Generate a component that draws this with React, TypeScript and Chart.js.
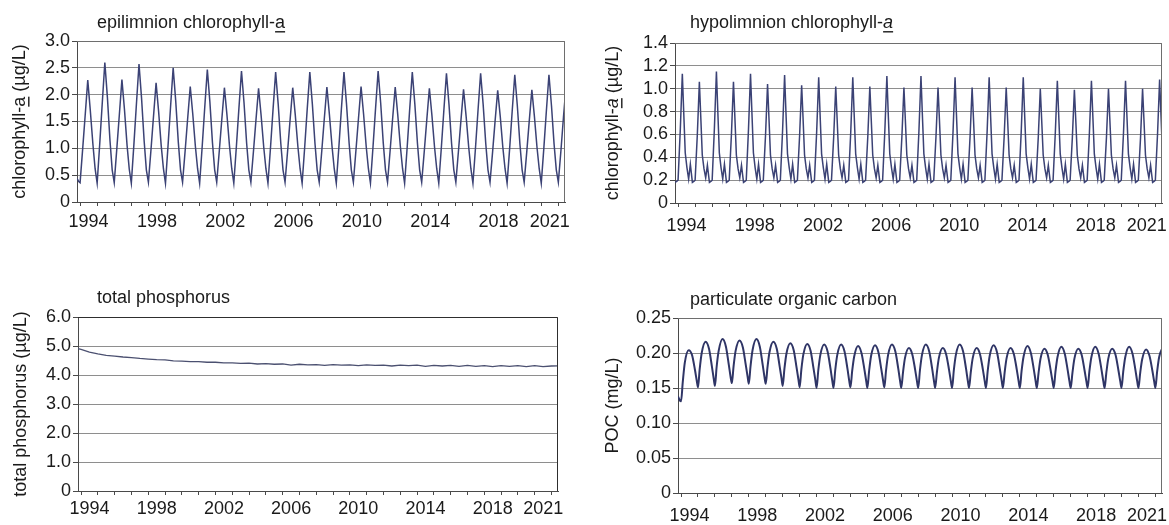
import React, { useEffect, useRef } from 'react';
import { Chart, registerables } from 'chart.js';

Chart.register(...registerables);

const FONT = '"Liberation Sans", Arial, Helvetica, sans-serif';
const FONT_SIZE = 18;
const TEXT_COLOR = '#1a1a1a';
const GRID_COLOR = '#8e8e8e';
const AXIS_COLOR = '#4a4a4a';
const FRAME_COLOR = '#6e6e6e';

// Time axis in decimal years
const X_MIN = 1993.82;
const X_MAX = 2022.39;
const YEAR_MARKS = [
  1994, 1995, 1996, 1997, 1998, 1999, 2000, 2001, 2002, 2003, 2004, 2005, 2006, 2007, 2008,
  2009, 2010, 2011, 2012, 2013, 2014, 2015, 2016, 2017, 2018, 2019, 2020, 2021, 2022,
];
const YEAR_LABELS = [1994, 1998, 2002, 2006, 2010, 2014, 2018, 2021];

// Each series is stored as one row of values per year; the row values sit at the
// listed fractions of that year.
const ROW_YEARS = YEAR_MARKS;

// ---- epilimnion chlorophyll-a (µg/L)
const EPI_LEAD = [
  [1993.82, 0.44],
  [1993.92, 0.38],
];
const EPI_OFFSETS = [0, 0.15, 0.3, 0.45, 0.6, 0.75, 0.88];
const EPI_ROWS = [
  [0.36, 0.98, 1.62, 2.27, 1.7, 1.08, 0.62],
  [0.35, 1.08, 1.85, 2.6, 1.95, 1.15, 0.6],
  [0.36, 0.99, 1.63, 2.28, 1.72, 1.06, 0.61],
  [0.35, 1.07, 1.83, 2.57, 1.93, 1.14, 0.6],
  [0.37, 0.97, 1.6, 2.22, 1.68, 1.05, 0.62],
  [0.35, 1.05, 1.79, 2.5, 1.88, 1.12, 0.6],
  [0.37, 0.95, 1.56, 2.15, 1.63, 1.04, 0.62],
  [0.35, 1.04, 1.77, 2.47, 1.86, 1.11, 0.6],
  [0.37, 0.95, 1.55, 2.13, 1.62, 1.04, 0.62],
  [0.35, 1.03, 1.75, 2.44, 1.84, 1.1, 0.6],
  [0.37, 0.94, 1.54, 2.12, 1.61, 1.03, 0.62],
  [0.35, 1.02, 1.74, 2.42, 1.82, 1.1, 0.6],
  [0.37, 0.95, 1.55, 2.13, 1.62, 1.04, 0.62],
  [0.35, 1.02, 1.74, 2.42, 1.82, 1.1, 0.6],
  [0.37, 0.95, 1.56, 2.14, 1.62, 1.04, 0.62],
  [0.35, 1.02, 1.74, 2.42, 1.82, 1.1, 0.6],
  [0.37, 0.96, 1.56, 2.15, 1.63, 1.04, 0.62],
  [0.35, 1.03, 1.75, 2.44, 1.84, 1.1, 0.6],
  [0.37, 0.95, 1.56, 2.14, 1.62, 1.04, 0.62],
  [0.35, 1.02, 1.74, 2.42, 1.82, 1.1, 0.6],
  [0.37, 0.94, 1.54, 2.12, 1.61, 1.03, 0.62],
  [0.35, 1.01, 1.72, 2.4, 1.81, 1.09, 0.6],
  [0.37, 0.94, 1.53, 2.1, 1.6, 1.03, 0.62],
  [0.35, 1.01, 1.72, 2.4, 1.81, 1.09, 0.6],
  [0.37, 0.93, 1.52, 2.08, 1.59, 1.02, 0.62],
  [0.35, 1.0, 1.7, 2.37, 1.79, 1.08, 0.6],
  [0.37, 0.93, 1.52, 2.09, 1.59, 1.02, 0.62],
  [0.35, 1.0, 1.7, 2.37, 1.79, 1.08, 0.6],
  [0.37, 0.95, 1.58, 2.16],
];

// ---- hypolimnion chlorophyll-a (µg/L)
const HYPO_LEAD = [
  [1993.82, 0.18],
  [1993.92, 0.19],
];
const HYPO_OFFSETS = [0, 0.13, 0.25, 0.33, 0.42, 0.52, 0.62, 0.72, 0.84, 0.94];
const HYPO_ROWS = [
  [0.2, 0.64, 1.13, 0.8, 0.44, 0.31, 0.21, 0.34, 0.18, 0.19],
  [0.2, 0.6, 1.06, 0.76, 0.42, 0.3, 0.22, 0.33, 0.18, 0.19],
  [0.2, 0.65, 1.15, 0.81, 0.44, 0.31, 0.21, 0.34, 0.18, 0.19],
  [0.2, 0.6, 1.06, 0.76, 0.42, 0.3, 0.22, 0.33, 0.18, 0.19],
  [0.2, 0.64, 1.13, 0.8, 0.44, 0.31, 0.21, 0.34, 0.18, 0.19],
  [0.2, 0.59, 1.04, 0.75, 0.42, 0.3, 0.22, 0.33, 0.18, 0.19],
  [0.2, 0.63, 1.12, 0.79, 0.43, 0.31, 0.21, 0.34, 0.18, 0.19],
  [0.2, 0.59, 1.03, 0.75, 0.42, 0.3, 0.22, 0.33, 0.18, 0.19],
  [0.2, 0.62, 1.1, 0.78, 0.43, 0.31, 0.21, 0.34, 0.18, 0.19],
  [0.2, 0.58, 1.02, 0.74, 0.42, 0.3, 0.22, 0.33, 0.18, 0.19],
  [0.2, 0.62, 1.1, 0.78, 0.43, 0.31, 0.21, 0.34, 0.18, 0.19],
  [0.2, 0.58, 1.02, 0.74, 0.42, 0.3, 0.22, 0.33, 0.18, 0.19],
  [0.2, 0.63, 1.11, 0.78, 0.43, 0.31, 0.21, 0.34, 0.18, 0.19],
  [0.2, 0.58, 1.01, 0.74, 0.42, 0.3, 0.22, 0.33, 0.18, 0.19],
  [0.2, 0.63, 1.11, 0.78, 0.43, 0.31, 0.21, 0.34, 0.18, 0.19],
  [0.2, 0.58, 1.01, 0.74, 0.42, 0.3, 0.22, 0.33, 0.18, 0.19],
  [0.2, 0.62, 1.1, 0.78, 0.43, 0.31, 0.21, 0.34, 0.18, 0.19],
  [0.2, 0.58, 1.01, 0.74, 0.42, 0.3, 0.22, 0.33, 0.18, 0.19],
  [0.2, 0.62, 1.1, 0.78, 0.43, 0.31, 0.21, 0.34, 0.18, 0.19],
  [0.2, 0.58, 1.01, 0.74, 0.42, 0.3, 0.22, 0.33, 0.18, 0.19],
  [0.2, 0.62, 1.1, 0.78, 0.43, 0.31, 0.21, 0.34, 0.18, 0.19],
  [0.2, 0.57, 1.0, 0.73, 0.42, 0.3, 0.22, 0.33, 0.18, 0.19],
  [0.2, 0.61, 1.07, 0.77, 0.43, 0.31, 0.21, 0.34, 0.18, 0.19],
  [0.2, 0.57, 0.99, 0.73, 0.42, 0.3, 0.22, 0.33, 0.18, 0.19],
  [0.2, 0.61, 1.07, 0.77, 0.43, 0.31, 0.21, 0.34, 0.18, 0.19],
  [0.2, 0.57, 1.0, 0.73, 0.42, 0.3, 0.22, 0.33, 0.18, 0.19],
  [0.2, 0.61, 1.07, 0.77, 0.43, 0.31, 0.21, 0.34, 0.18, 0.19],
  [0.2, 0.57, 1.0, 0.73, 0.42, 0.3, 0.22, 0.33, 0.18, 0.19],
  [0.2, 0.61, 1.08, 0.77, 0.43],
];

// ---- total phosphorus (µg/L)
const TP_LEAD = [[1993.82, 4.91]];
const TP_OFFSETS = [0, 0.5];
const TP_ROWS = [
  [4.88, 4.79],
  [4.73, 4.68],
  [4.65, 4.62],
  [4.6, 4.57],
  [4.55, 4.53],
  [4.52, 4.49],
  [4.48, 4.46],
  [4.46, 4.44],
  [4.44, 4.42],
  [4.42, 4.4],
  [4.41, 4.38],
  [4.39, 4.37],
  [4.38, 4.34],
  [4.37, 4.35],
  [4.36, 4.33],
  [4.36, 4.34],
  [4.35, 4.32],
  [4.35, 4.33],
  [4.34, 4.31],
  [4.34, 4.32],
  [4.34, 4.3],
  [4.33, 4.31],
  [4.33, 4.3],
  [4.33, 4.3],
  [4.32, 4.29],
  [4.32, 4.3],
  [4.32, 4.29],
  [4.32, 4.29],
  [4.31, 4.32],
];

// ---- particulate organic carbon (mg/L)
const POC_LEAD = [
  [1993.82, 0.138],
  [1993.91, 0.133],
];
const POC_OFFSETS = [0, 0.1, 0.22, 0.45, 0.65, 0.82, 0.93];
const POC_ROWS = [
  [0.131, 0.158, 0.186, 0.204, 0.197, 0.176, 0.16],
  [0.151, 0.177, 0.2, 0.216, 0.206, 0.181, 0.163],
  [0.153, 0.18, 0.203, 0.22, 0.209, 0.183, 0.165],
  [0.157, 0.181, 0.203, 0.218, 0.208, 0.183, 0.166],
  [0.156, 0.181, 0.204, 0.22, 0.209, 0.183, 0.165],
  [0.156, 0.179, 0.201, 0.216, 0.206, 0.181, 0.164],
  [0.153, 0.177, 0.199, 0.214, 0.204, 0.179, 0.162],
  [0.151, 0.176, 0.198, 0.213, 0.203, 0.178, 0.161],
  [0.15, 0.175, 0.197, 0.212, 0.202, 0.178, 0.16],
  [0.15, 0.175, 0.197, 0.212, 0.202, 0.178, 0.16],
  [0.151, 0.174, 0.195, 0.21, 0.2, 0.177, 0.16],
  [0.15, 0.174, 0.196, 0.211, 0.201, 0.177, 0.16],
  [0.151, 0.175, 0.197, 0.212, 0.202, 0.178, 0.16],
  [0.15, 0.172, 0.193, 0.207, 0.198, 0.176, 0.159],
  [0.15, 0.175, 0.197, 0.212, 0.202, 0.178, 0.16],
  [0.15, 0.172, 0.193, 0.207, 0.198, 0.176, 0.159],
  [0.15, 0.175, 0.197, 0.212, 0.202, 0.178, 0.16],
  [0.15, 0.172, 0.193, 0.207, 0.198, 0.176, 0.159],
  [0.15, 0.174, 0.196, 0.211, 0.201, 0.177, 0.16],
  [0.15, 0.172, 0.193, 0.207, 0.198, 0.176, 0.159],
  [0.15, 0.174, 0.195, 0.21, 0.2, 0.177, 0.16],
  [0.15, 0.171, 0.192, 0.206, 0.197, 0.175, 0.159],
  [0.15, 0.173, 0.194, 0.209, 0.199, 0.176, 0.159],
  [0.15, 0.171, 0.192, 0.206, 0.197, 0.175, 0.159],
  [0.15, 0.173, 0.194, 0.209, 0.199, 0.176, 0.159],
  [0.15, 0.171, 0.192, 0.206, 0.197, 0.175, 0.159],
  [0.15, 0.173, 0.194, 0.209, 0.199, 0.176, 0.159],
  [0.15, 0.171, 0.191, 0.205, 0.196, 0.175, 0.159],
  [0.15, 0.173, 0.194, 0.209],
];

type Pt = { x: number; y: number };
type Seg = { text: string; underline?: boolean; italic?: boolean };

function buildSeries(lead: number[][], offsets: number[], rows: number[][]): Pt[] {
  const pts: Pt[] = lead.map(([x, y]) => ({ x, y }));
  rows.forEach((row, i) => {
    row.forEach((v, j) => pts.push({ x: ROW_YEARS[i] + offsets[j], y: v }));
  });
  return pts;
}

function segFont(seg: Seg) {
  return `${seg.italic ? 'italic ' : ''}${FONT_SIZE}px ${FONT}`;
}

function segsWidth(ctx: CanvasRenderingContext2D, segs: Seg[]) {
  let w = 0;
  for (const s of segs) {
    ctx.font = segFont(s);
    w += ctx.measureText(s.text).width;
  }
  return w;
}

function drawSegs(ctx: CanvasRenderingContext2D, segs: Seg[], x: number, y: number) {
  let cx = x;
  ctx.textBaseline = 'middle';
  ctx.textAlign = 'left';
  for (const s of segs) {
    ctx.font = segFont(s);
    const w = ctx.measureText(s.text).width;
    ctx.fillText(s.text, cx, y);
    if (s.underline) ctx.fillRect(cx, y + FONT_SIZE * 0.45, w, 1.4);
    cx += w;
  }
}

// Panel heading, rotated y-axis title and the box around the plot area
const panelDecor = {
  id: 'panelDecor',
  afterDatasetsDraw(chart: any, _args: any, opts: any) {
    const { ctx, chartArea } = chart;
    const { left, top, right, bottom } = chartArea;
    ctx.save();
    ctx.lineWidth = 1;
    ctx.strokeStyle = opts.frameColor;
    ctx.beginPath();
    ctx.moveTo(left, Math.round(top) + 0.5);
    ctx.lineTo(Math.round(right) - 0.5, Math.round(top) + 0.5);
    ctx.lineTo(Math.round(right) - 0.5, bottom);
    ctx.stroke();
    ctx.restore();
  },
  afterDraw(chart: any, _args: any, opts: any) {
    const { ctx, chartArea } = chart;
    ctx.save();
    ctx.fillStyle = TEXT_COLOR;
    drawSegs(ctx, opts.title, chartArea.left + opts.titleDx, chartArea.top + opts.titleDy);
    const w = segsWidth(ctx, opts.yTitle);
    ctx.translate(opts.yTitleX, (chartArea.top + chartArea.bottom) / 2);
    ctx.rotate(-Math.PI / 2);
    drawSegs(ctx, opts.yTitle, -w / 2, 0);
    ctx.restore();
  },
};

interface PanelSpec {
  box: { left: number; top: number; width: number; height: number };
  padding: { left: number; top: number; right: number; bottom: number };
  yMax: number;
  yStep: number;
  decimals: number;
  title: Seg[];
  titleDx: number;
  titleDy: number;
  yTitle: Seg[];
  yTitleX: number;
  points: Pt[];
  lineColor: string;
  lineWidth: number;
  smooth: boolean;
  xLabelPad: number;
  frameColor: string;
}

const PANELS: PanelSpec[] = [
  {
    box: { left: 0, top: 0, width: 580, height: 262 },
    padding: { left: 27, top: 41, right: 15, bottom: 30 },
    yMax: 3,
    yStep: 0.5,
    decimals: 1,
    title: [{ text: 'epilimnion chlorophyll-' }, { text: 'a', underline: true }],
    titleDx: 20,
    titleDy: -18,
    yTitle: [{ text: 'chlorophyll-' }, { text: 'a', underline: true }, { text: ' (µg/L)' }],
    yTitleX: 20,
    points: buildSeries(EPI_LEAD, EPI_OFFSETS, EPI_ROWS),
    lineColor: '#3b4275',
    lineWidth: 1.5,
    smooth: false,
    xLabelPad: 5,
    frameColor: FRAME_COLOR,
  },
  {
    box: { left: 580, top: 0, width: 589, height: 262 },
    padding: { left: 45, top: 43, right: 7, bottom: 29 },
    yMax: 1.4,
    yStep: 0.2,
    decimals: 1,
    title: [{ text: 'hypolimnion chlorophyll-' }, { text: 'a', underline: true, italic: true }],
    titleDx: 15,
    titleDy: -20,
    yTitle: [
      { text: 'chlorophyll-' },
      { text: 'a', underline: true, italic: true },
      { text: ' (µg/L)' },
    ],
    yTitleX: 33,
    points: buildSeries(HYPO_LEAD, HYPO_OFFSETS, HYPO_ROWS),
    lineColor: '#3b4275',
    lineWidth: 1.5,
    smooth: false,
    xLabelPad: 8,
    frameColor: FRAME_COLOR,
  },
  {
    box: { left: 0, top: 262, width: 580, height: 263 },
    padding: { left: 28, top: 55, right: 22, bottom: 4 },
    yMax: 6,
    yStep: 1,
    decimals: 1,
    title: [{ text: 'total phosphorus' }],
    titleDx: 19,
    titleDy: -19,
    yTitle: [{ text: 'total phosphorus (µg/L)' }],
    yTitleX: 21,
    points: buildSeries(TP_LEAD, TP_OFFSETS, TP_ROWS),
    lineColor: '#4b5070',
    lineWidth: 1.3,
    smooth: false,
    xLabelPad: 3,
    frameColor: '#2e2e2e',
  },
  {
    box: { left: 580, top: 262, width: 589, height: 263 },
    padding: { left: 48, top: 56, right: 7, bottom: 2 },
    yMax: 0.25,
    yStep: 0.05,
    decimals: 2,
    title: [{ text: 'particulate organic carbon' }],
    titleDx: 12,
    titleDy: -18,
    yTitle: [{ text: 'POC (mg/L)' }],
    yTitleX: 33,
    points: buildSeries(POC_LEAD, POC_OFFSETS, POC_ROWS),
    lineColor: '#2f3566',
    lineWidth: 2,
    smooth: true,
    xLabelPad: 8,
    frameColor: FRAME_COLOR,
  },
];

function Panel({ spec }: { spec: PanelSpec }) {
  const ref = useRef<HTMLCanvasElement | null>(null);

  useEffect(() => {
    if (!ref.current) return;
    const tickFont = { family: FONT, size: FONT_SIZE };
    const chart = new Chart(ref.current, {
      type: 'line',
      data: {
        datasets: [
          {
            data: spec.points as any,
            borderColor: spec.lineColor,
            borderWidth: spec.lineWidth,
            pointRadius: 0,
            fill: false,
            tension: 0,
            cubicInterpolationMode: spec.smooth ? 'monotone' : 'default',
          },
        ],
      },
      options: {
        animation: false,
        responsive: false,
        events: [],
        layout: { padding: spec.padding },
        plugins: {
          legend: { display: false },
          tooltip: { enabled: false },
          panelDecor: {
            title: spec.title,
            titleDx: spec.titleDx,
            titleDy: spec.titleDy,
            yTitle: spec.yTitle,
            yTitleX: spec.yTitleX,
            frameColor: spec.frameColor,
          },
        } as any,
        scales: {
          x: {
            type: 'linear',
            min: X_MIN,
            max: X_MAX,
            afterBuildTicks: (scale: any) => {
              scale.ticks = YEAR_MARKS.map((v) => ({ value: v }));
            },
            afterFit: (scale: any) => {
              scale.height = 30;
            },
            grid: {
              drawOnChartArea: false,
              drawTicks: true,
              tickLength: 4,
              color: AXIS_COLOR,
            },
            border: { display: true, color: AXIS_COLOR, width: 1 },
            ticks: {
              autoSkip: false,
              maxRotation: 0,
              minRotation: 0,
              labelOffset: 8.5,
              padding: spec.xLabelPad,
              font: tickFont,
              color: TEXT_COLOR,
              callback: (v: any) => (YEAR_LABELS.includes(Number(v)) ? String(v) : ''),
            },
          },
          y: {
            type: 'linear',
            min: 0,
            max: spec.yMax,
            afterFit: (scale: any) => {
              scale.width = 50;
            },
            grid: {
              color: GRID_COLOR,
              tickLength: 5,
              tickColor: AXIS_COLOR,
            },
            border: { display: true, color: AXIS_COLOR, width: 1 },
            ticks: {
              autoSkip: false,
              stepSize: spec.yStep,
              padding: 2,
              font: tickFont,
              color: TEXT_COLOR,
              callback: (v: any) => {
                const n = Number(v);
                return Math.abs(n) < 1e-9 ? '0' : n.toFixed(spec.decimals);
              },
            },
          },
        },
      },
      plugins: [panelDecor],
    });
    return () => chart.destroy();
  }, [spec]);

  return (
    <canvas
      ref={ref}
      width={spec.box.width}
      height={spec.box.height}
      style={{
        position: 'absolute',
        left: spec.box.left,
        top: spec.box.top,
        width: spec.box.width,
        height: spec.box.height,
      }}
    />
  );
}

export default function App() {
  return (
    <div
      style={{
        position: 'absolute',
        left: 0,
        top: 0,
        width: 1169,
        height: 525,
        background: '#ffffff',
        overflow: 'hidden',
      }}
    >
      {PANELS.map((p, i) => (
        <Panel key={i} spec={p} />
      ))}
    </div>
  );
}
